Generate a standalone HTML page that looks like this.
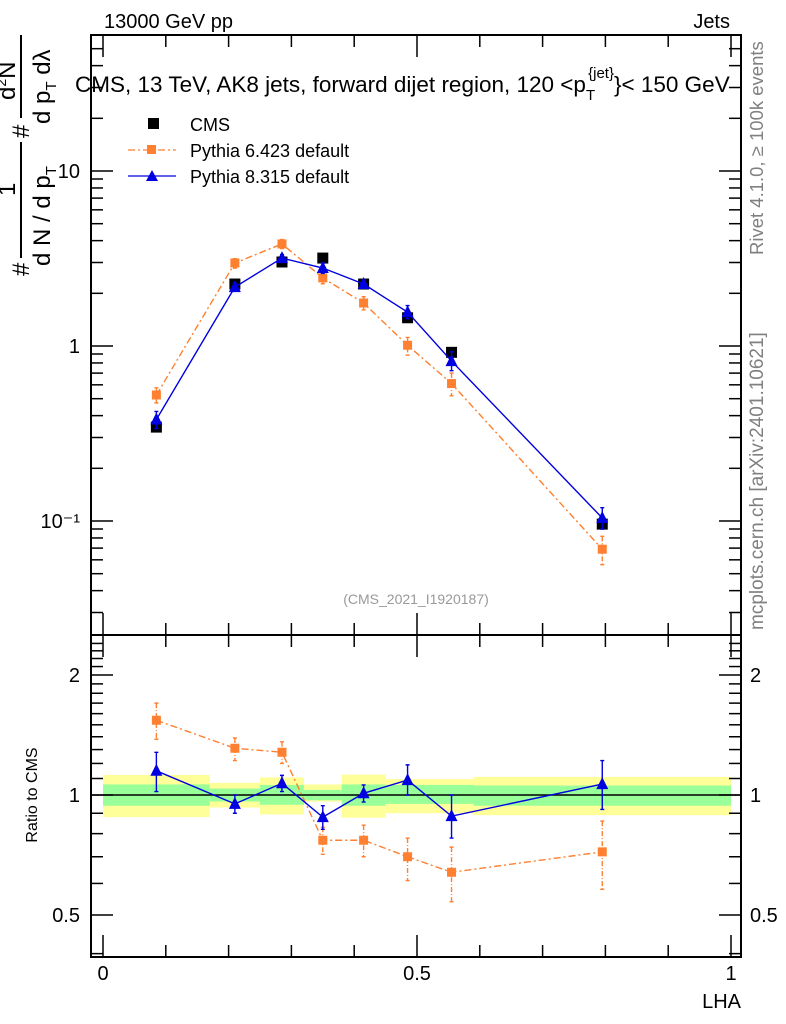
<!DOCTYPE html>
<html><head><meta charset="utf-8"><style>
html,body{margin:0;padding:0;background:#fff;}
svg{display:block;font-family:"Liberation Sans",Arial,sans-serif;}
</style></head><body>
<svg id="c" width="786" height="1024" viewBox="0 0 786 1024" xmlns="http://www.w3.org/2000/svg">
<g id="bands"></g>
<g id="marks"></g>
<g id="axes"></g>
<text x="104" y="28" font-size="20">13000 GeV pp</text>
<text x="730" y="28" font-size="20" text-anchor="end">Jets</text>
<text x="75" y="92" font-size="22.5">CMS, 13 TeV, AK8 jets, forward dijet region, 120 &lt;p<tspan dy="8" font-size="15">T</tspan><tspan dy="-22" dx="-7" font-size="15">{jet}</tspan><tspan dy="14">}&lt; 150 GeV</tspan></text>
<text x="416" y="604" font-size="14" fill="#999" text-anchor="middle">(CMS_2021_I1920187)</text>
<text transform="translate(763,255) rotate(-90)" font-size="18.5" fill="#808080">Rivet 4.1.0, ≥ 100k events</text>
<text transform="translate(763,630) rotate(-90)" font-size="19" fill="#808080">mcplots.cern.ch [arXiv:2401.10621]</text>
<g>
<line x1="21" y1="35" x2="21" y2="258" stroke="#000" stroke-width="2"/>
<rect x="10" y="118" width="22" height="24" fill="#fff"/>
<text transform="translate(29,138) rotate(-90)" font-size="24">#</text>
<text transform="translate(29,276) rotate(-90)" font-size="24">#</text>
<text transform="translate(15,196) rotate(-90)" font-size="24">1</text>
<text transform="translate(50,266) rotate(-90)" font-size="24">d N / d p<tspan font-size="15" dy="6">T</tspan></text>
<text transform="translate(15,100) rotate(-90)" font-size="24">d<tspan font-size="14" dy="-9">2</tspan><tspan dy="9">N</tspan></text>
<text transform="translate(50,124) rotate(-90)" font-size="24">d p<tspan font-size="15" dy="6">T</tspan><tspan dy="-6"> dλ</tspan></text>
</g>
<text transform="translate(37,795) rotate(-90)" font-size="16" text-anchor="middle">Ratio to CMS</text>
<text x="741" y="1008" font-size="20" text-anchor="end">LHA</text>
<g>
<rect x="148" y="118" width="11" height="11" fill="#000"/>
<text x="190" y="131" font-size="18">CMS</text>
<line x1="128" y1="150" x2="176" y2="150" stroke="#ff7f2a" stroke-width="1.3" stroke-dasharray="7,3,2,3"/>
<rect x="147" y="145" width="9" height="9" fill="#ff8030"/>
<text x="190" y="157" font-size="18">Pythia 6.423 default</text>
<line x1="128" y1="176" x2="176" y2="176" stroke="#0000e0" stroke-width="1.3"/>
<polygon points="152,170 146,181 158,181" fill="#0000e0"/>
<text x="190" y="183" font-size="18">Pythia 8.315 default</text>
</g>
</svg>
<script>
const xCenters=[0.085,0.21,0.285,0.35,0.415,0.485,0.555,0.795];
const binEdges=[0,0.17,0.25,0.32,0.38,0.45,0.52,0.59,1.0];
const cmsVals=[0.344,2.26,3.02,3.18,2.26,1.45,0.92,0.096];
const py6Vals=[0.525,2.98,3.83,2.45,1.76,1.01,0.61,0.069];
const py8Vals=[0.38,2.17,3.18,2.79,2.26,1.56,0.82,0.104];
const py6Ratio=[1.54,1.31,1.28,0.77,0.77,0.70,0.64,0.72];
const py6RatioHi=[1.70,1.39,1.36,0.83,0.84,0.78,0.74,0.86];
const py6RatioLo=[1.38,1.22,1.20,0.71,0.70,0.61,0.54,0.58];
const py8Ratio=[1.15,0.95,1.07,0.88,1.01,1.09,0.885,1.065];
const py8RatioHi=[1.28,1.00,1.12,0.94,1.06,1.19,1.00,1.22];
const py8RatioLo=[1.02,0.90,1.02,0.82,0.96,1.00,0.78,0.92];
const yellowHi=[1.123,1.073,1.107,1.063,1.125,1.096,1.096,1.11];
const yellowLo=[0.88,0.93,0.894,0.963,0.877,0.90,0.90,0.89];
const greenHi=[1.063,1.038,1.06,1.03,1.063,1.06,1.06,1.056];
const greenLo=[0.94,0.963,0.945,0.97,0.94,0.95,0.95,0.94];
const mainTicks=["10\u207B\u00B9","1","10"];
const ratioTicks=["0.5","1","2"];
const xTickLabels=["0","0.5","1"];

const NS="http://www.w3.org/2000/svg";
const L=91,R=741,T=35,MB=635,RB=957;
const X=v=>103+628*v;
const Y=v=>346-175*Math.log10(v);
const YR=v=>795-120*Math.log2(v);
function mk(p,tag,a){const e=document.createElementNS(NS,tag);for(const k in a)e.setAttribute(k,a[k]);p.appendChild(e);return e;}
const bands=document.getElementById('bands'),marks=document.getElementById('marks'),axes=document.getElementById('axes');

for(let i=0;i<yellowHi.length;i++){
 const x0=X(binEdges[i]),x1=X(binEdges[i+1]);
 const y=mk(bands,'rect',{x:x0,y:YR(yellowHi[i]),width:x1-x0,height:YR(yellowLo[i])-YR(yellowHi[i]),fill:'#ffff99'});
 
 
 const g=mk(bands,'rect',{x:x0,y:YR(greenHi[i]),width:x1-x0,height:YR(greenLo[i])-YR(greenHi[i]),fill:'#99ff99'});
 
 
}
const one=mk(bands,'line',{x1:L,x2:R,y1:YR(1),y2:YR(1),stroke:'#000','stroke-width':1.5});



function series(vals,yf,color,dash,shape,name,hi,lo,noLine){
 if(!noLine){
 const pts=vals.map((v,i)=>X(xCenters[i])+','+yf(v)).join(' ');
 const pl=mk(marks,'polyline',{points:pts,fill:'none',stroke:color,'stroke-width':1.4});
 if(dash)pl.setAttribute('stroke-dasharray',dash);
 
 
 }
 vals.forEach((v,i)=>{
  const x=X(xCenters[i]);
  if(hi){
   const e=mk(marks,'path',{d:`M${x},${yf(hi[i])}V${yf(lo[i])}M${x-2},${yf(hi[i])}h4M${x-2},${yf(lo[i])}h4`,stroke:color,'stroke-width':1.4,fill:'none'});
   if(dash)e.setAttribute('stroke-dasharray','5,2,1,2');
   
   
  }
  let m;
  const y=yf(v);
  if(shape==='sq')m=mk(marks,'rect',{x:x-5.5,y:y-5.5,width:11,height:11,fill:color});
  else if(shape==='sqs')m=mk(marks,'rect',{x:x-4.5,y:y-4.5,width:9,height:9,fill:color});
  else m=mk(marks,'polygon',{points:`${x},${y-7} ${x-6},${y+5} ${x+6},${y+5}`,fill:color});
  
  
 });
}
series(cmsVals,Y,'#000',null,'sq','cms',null,null,true);
series(py6Vals,Y,'#ff8030','7,3,2,3','sqs','pythia6',py6Vals.map((v,i)=>v*py6RatioHi[i]/py6Ratio[i]*0.95+v*0.05),py6Vals.map((v,i)=>v*py6RatioLo[i]/py6Ratio[i]*0.95+v*0.05));
series(py8Vals,Y,'#0000e0',null,'tri','pythia8',py8Vals.map((v,i)=>v*py8RatioHi[i]/py8Ratio[i]),py8Vals.map((v,i)=>v*py8RatioLo[i]/py8Ratio[i]));
series(py6Ratio,YR,'#ff8030','7,3,2,3','sqs','pythia6-ratio',py6RatioHi,py6RatioLo);
series(py8Ratio,YR,'#0000e0',null,'tri','pythia8-ratio',py8RatioHi,py8RatioLo);

[[T,MB],[MB,RB]].forEach(([t,b],k)=>{
 const f=mk(axes,'rect',{x:L,y:t,width:R-L,height:b-t,fill:'none',stroke:'#000','stroke-width':2});
 
 
 for(let i=0;i<=10;i++){const v=i/10,len=(i%5==0)?22:12,x=X(v);
  mk(axes,'line',{x1:x,x2:x,y1:t,y2:t+len,stroke:'#000','stroke-width':1.5});
  mk(axes,'line',{x1:x,x2:x,y1:b,y2:b-len,stroke:'#000','stroke-width':1.5});}
});
xTickLabels.forEach((s,i)=>{const t=mk(axes,'text',{x:X(i*0.5),y:980,'font-size':20,'text-anchor':'middle'});t.textContent=s;
 
 });
for(let d=-2;d<=1;d++)for(let m=1;m<10;m++){const v=m*Math.pow(10,d),y=Y(v);if(y<T||y>MB)continue;
 const len=m==1?22:12;
 mk(axes,'line',{x1:L,x2:L+len,y1:y,y2:y,stroke:'#000','stroke-width':1.5});
 mk(axes,'line',{x1:R,x2:R-len,y1:y,y2:y,stroke:'#000','stroke-width':1.5});}
[0.1,1,10].forEach((v,i)=>{const t=mk(axes,'text',{x:80,y:Y(v)+7,'font-size':20,'text-anchor':'end'});t.textContent=mainTicks[i];
 
 });
for(let v=0.4;v<=2.5;v+=0.1){const y=YR(v);if(y<MB||y>RB)continue;
 const r=Math.round(v*10)/10;const len=(r==0.5||r==1||r==2)?22:12;
 mk(axes,'line',{x1:L,x2:L+len,y1:y,y2:y,stroke:'#000','stroke-width':1.5});
 mk(axes,'line',{x1:R,x2:R-len,y1:y,y2:y,stroke:'#000','stroke-width':1.5});}
[0.5,1,2].forEach((v,i)=>{
 const t=mk(axes,'text',{x:80,y:YR(v)+7,'font-size':20,'text-anchor':'end'});t.textContent=ratioTicks[i];
 
 
 const t2=mk(axes,'text',{x:750,y:YR(v)+7,'font-size':20});t2.textContent=ratioTicks[i];
 
 });
</script>
</body></html>
